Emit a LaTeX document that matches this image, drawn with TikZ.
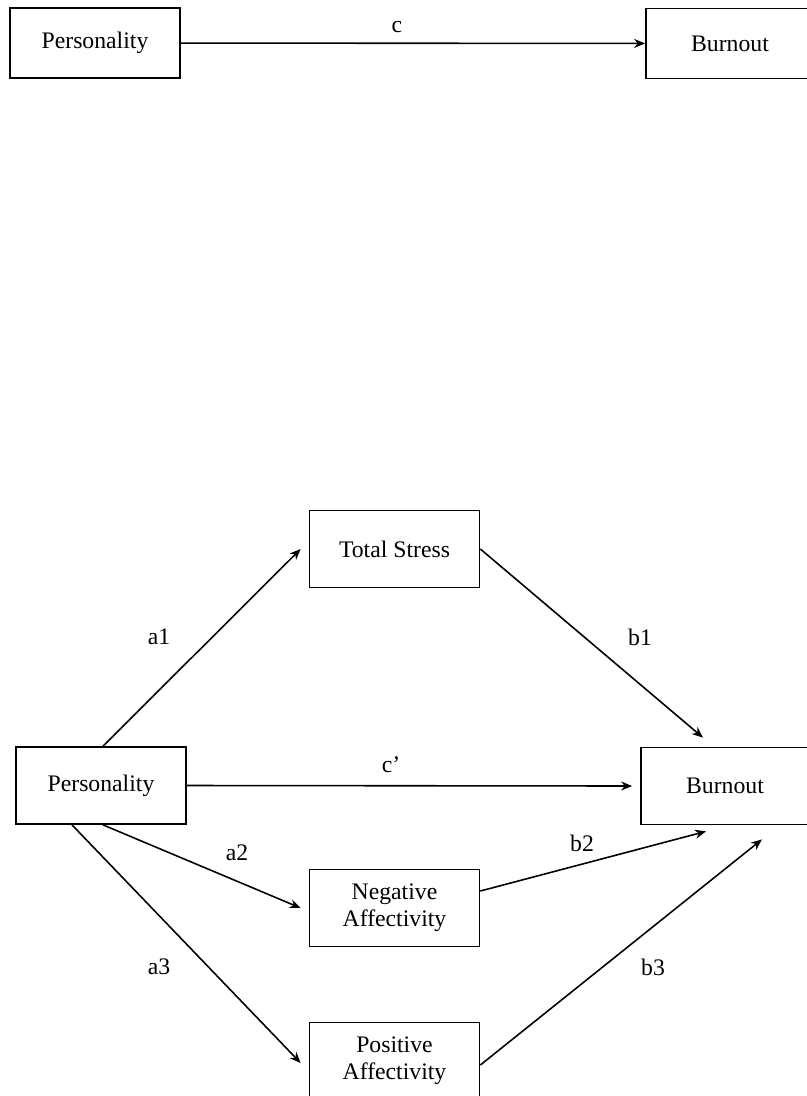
\documentclass[tikz,border=0pt]{standalone}
\usepackage{fontspec}
\setmainfont{Liberation Serif}
\usetikzlibrary{arrows.meta}
\usetikzlibrary{positioning}

\tikzset{
  var/.style={draw, line width=1pt, minimum width=3.4cm, minimum height=1.54cm,
    inner sep=0pt, align=center, font=\fontsize{13.5}{15.5}\selectfont},
  link/.style={-{Stealth[length=2.2mm,width=1.8mm]}, line width=0.9pt},
  coef/.style={inner sep=0pt, font=\fontsize{13.5}{15.5}\selectfont}
}

\begin{document}
\begin{tikzpicture}[x=0.02cm, y=-0.02cm]
  \clip (0,0) rectangle (807,1096);
  \fill[white] (0,0) rectangle (807,1096);

  \node [var, minimum height=1.4cm] (pers top) at (95,43) {Personality};
  \node [var, minimum height=1.4cm, minimum width=3.36cm] (burn top) at (730,43.5) {Burnout};
  \draw [link] (pers top) -- (burn top);
  \node [coef] (c) at (397,27) {c};

  \node [var] (pers) at (101,785.5) {Personality};
  \node [var, minimum width=3.36cm] (burn) at (725,786) {Burnout};
  \node [var] (ts) at (394.5,549) {Total Stress};
  \node [var] (neg) at (394.5,908) {Negative\\Affectivity};
  \node [var] (pos) at (394.5,1061) {Positive\\Affectivity};

  \draw [link] ([xshift=0.04cm]pers.north) -- ([xshift=-0.16cm]ts.west);
  \draw [link] ([xshift=0.04cm]pers.south) -- ([xshift=-0.16cm]neg.west);
  \draw [link] ([xshift=-0.58cm]pers.south) -- ([xshift=-0.16cm, yshift=-0.04cm]pos.west);
  \draw [link] (pers.east) -- ([xshift=-0.16cm]burn.west);
  \draw [link] (ts.east) -- ([xshift=-0.44cm, yshift=0.18cm]burn.north);
  \draw [link] ([yshift=0.34cm]neg.east) -- ([xshift=-0.38cm, yshift=-0.12cm]burn.south);
  \draw [link] ([yshift=-0.08cm]pos.east) -- ([xshift=0.74cm, yshift=-0.28cm]burn.south);

  \node [coef] (a1) at (159,637) {a1};
  \node [coef] (b1) at (640,637) {b1};
  \node [coef] (c prime) at (391,765) {c’};
  \node [coef] (a2) at (237,853) {a2};
  \node [coef] (b2) at (582,843) {b2};
  \node [coef] (a3) at (159,967) {a3};
  \node [coef] (b3) at (653,967) {b3};
\end{tikzpicture}
\end{document}
